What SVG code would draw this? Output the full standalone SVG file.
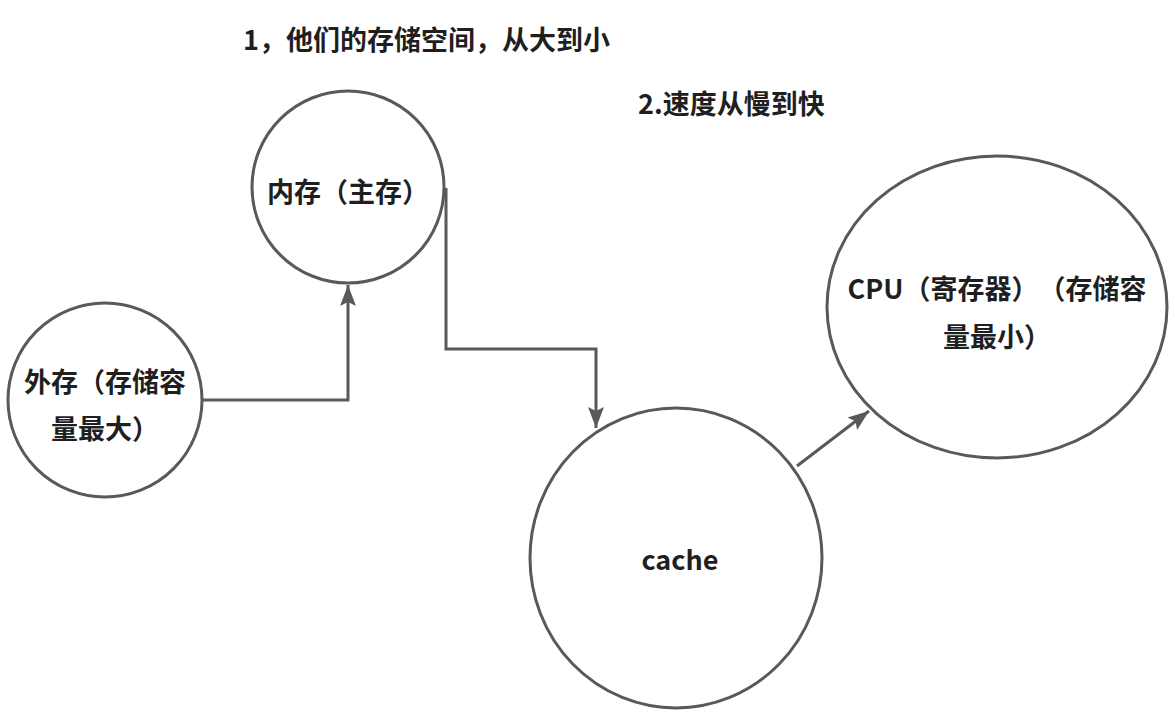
<svg xmlns="http://www.w3.org/2000/svg" width="1175" height="714" viewBox="0 0 1175 714">
<style>
.n{fill:#fff;stroke:#595959;stroke-width:3}
.t{font-family:"Noto Sans CJK SC","Noto Sans",sans-serif;font-weight:bold;font-size:27px;fill:#1f1f1f;dominant-baseline:central;text-spacing-trim:space-all}
.c{fill:none;stroke:#595959;stroke-width:3}
</style>
<defs>
<marker id="a" markerUnits="userSpaceOnUse" markerWidth="24" markerHeight="20" viewBox="0 0 24 20" refX="21" refY="10" orient="auto">
<path d="M0,2 L21,10 L0,18 L4,10 Z" fill="#595959"/>
</marker>
</defs>
<rect width="1175" height="714" fill="#fff"/>
<g id="title1"><text class="t" x="243" y="38">1，他们的存储空间，从大到小</text></g>
<g id="title2"><text class="t" x="638" y="102">2.速度从慢到快</text></g>
<g id="connectors">
<path class="c" d="M202,400 H348 V285" marker-end="url(#a)"/>
<path class="c" d="M446,188 V349 H596 V428" marker-end="url(#a)"/>
<path class="c" d="M797,466 L869,411" marker-end="url(#a)"/>
</g>
<g id="neicun">
<circle class="n" cx="348" cy="187" r="96"/>
<text class="t" x="348" y="190" text-anchor="middle">内存（主存）</text>
</g>
<g id="waicun">
<circle class="n" cx="105" cy="400" r="97"/>
<text class="t" x="105" y="380" text-anchor="middle">外存（存储容</text>
<text class="t" x="105" y="427" text-anchor="middle">量最大）</text>
</g>
<g id="cache">
<ellipse class="n" cx="676" cy="558" rx="146" ry="150"/>
<text class="t" x="680" y="558" text-anchor="middle">cache</text>
</g>
<g id="cpu">
<ellipse class="n" cx="997" cy="307" rx="170" ry="151"/>
<text class="t" x="997" y="287" text-anchor="middle">CPU（寄存器）（存储容</text>
<text class="t" x="997" y="335" text-anchor="middle">量最小）</text>
</g>
</svg>
